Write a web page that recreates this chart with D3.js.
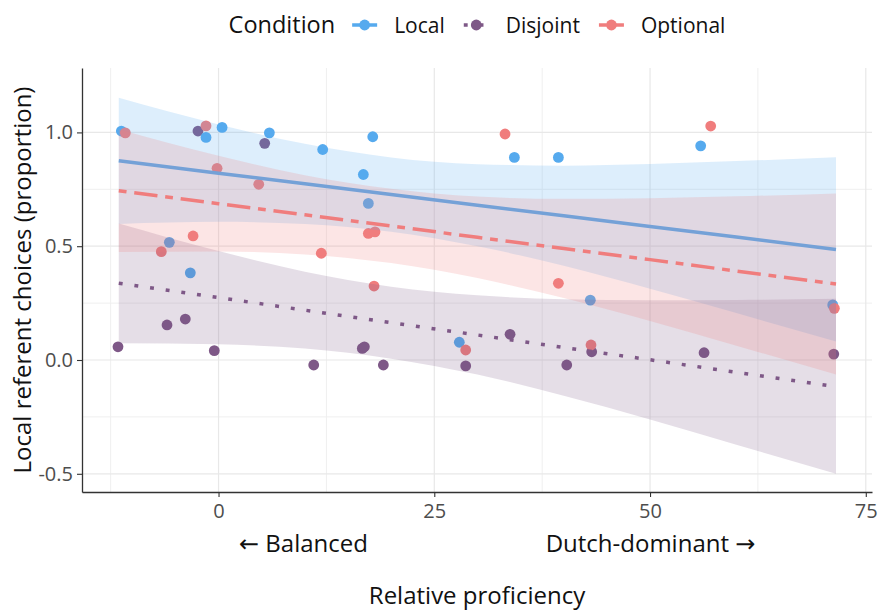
<!DOCTYPE html>
<html>
<head>
<meta charset="utf-8">
<script src="https://cdn.jsdelivr.net/npm/d3@7"></script>
<style>
  body { margin: 0; background: #fff; }
  text { font-family: "Open Sans", "Noto Sans", sans-serif; }
</style>
</head>
<body>
<svg id="chart" width="879" height="610"></svg>
<script>
// ---- data ---------------------------------------------------------------
const conditions = ["Local", "Disjoint", "Optional"];

// participant proportions by relative proficiency
const localX    = [-11.26, -1.45, 0.41, 5.89, 12.07, -5.70, -3.27, 17.87, 16.78, 17.36, 34.28, 39.38, 43.08, 27.90, 55.87, 71.17];
const localY    = [1.006, 0.978, 1.022, 0.998, 0.925, 0.517, 0.383, 0.981, 0.815, 0.688, 0.890, 0.890, 0.263, 0.078, 0.941, 0.242];
const disjointX = [-2.38, 5.35, -11.65, -5.97, -3.85, -0.49, 11.03, 16.66, 16.90, 19.10, 28.64, 33.78, 40.35, 43.24, 56.26, 71.29];
const disjointY = [1.006, 0.952, 0.058, 0.154, 0.180, 0.041, -0.022, 0.051, 0.058, -0.022, -0.026, 0.113, -0.022, 0.036, 0.032, 0.026];
const optionalX = [-10.80, -1.45, -0.17, 4.66, -6.63, -2.95, 11.91, 33.20, 17.36, 18.13, 18.02, 39.38, 28.64, 43.16, 57.03, 71.36];
const optionalY = [0.998, 1.029, 0.842, 0.772, 0.476, 0.545, 0.469, 0.993, 0.556, 0.563, 0.325, 0.337, 0.044, 0.066, 1.028, 0.227];

// linear fits with confidence bands
const fitX          = [-11.56, 0, 10, 20, 30, 40, 50, 60, 71.55];
const localFit      = [0.875, 0.821, 0.774, 0.727, 0.680, 0.634, 0.587, 0.540, 0.486];
const localLower    = [0.598, 0.607, 0.598, 0.564, 0.500, 0.414, 0.313, 0.206, 0.081];
const localUpper    = [1.152, 1.035, 0.950, 0.890, 0.860, 0.854, 0.861, 0.874, 0.891];
const disjointFit   = [0.337, 0.274, 0.219, 0.164, 0.110, 0.055, 0.001, -0.054, -0.117];
const disjointLower = [0.074, 0.069, 0.050, 0.006, -0.064, -0.157, -0.261, -0.372, -0.500];
const disjointUpper = [0.600, 0.479, 0.388, 0.322, 0.284, 0.267, 0.263, 0.264, 0.269];
const optionalFit   = [0.744, 0.687, 0.638, 0.589, 0.539, 0.490, 0.441, 0.391, 0.334];
const optionalLower = [0.474, 0.477, 0.464, 0.426, 0.360, 0.272, 0.171, 0.063, -0.064];
const optionalUpper = [1.014, 0.897, 0.812, 0.752, 0.718, 0.708, 0.711, 0.719, 0.732];

const xMajor = [0, 25, 50, 75];
const xMinor = [-12.5, 12.5, 37.5, 62.5];
const yMajor = [-0.5, 0, 0.5, 1.0];
const yMinor = [-0.25, 0.25, 0.75];

// ---- styling ------------------------------------------------------------
const colors = { Local: "#56AAEE", Disjoint: "#7E5887", Optional: "#F07D7D" };
const dashes = { Local: null, Disjoint: "3.9,11.9", Optional: "7.8,7.8,23.4,7.8" };
const lineWidth = 3.5;
const pointR = 5.4;

const groups = {
  Local:    { x: localX, y: localY, fit: localFit, lo: localLower, hi: localUpper },
  Disjoint: { x: disjointX, y: disjointY, fit: disjointFit, lo: disjointLower, hi: disjointUpper },
  Optional: { x: optionalX, y: optionalY, fit: optionalFit, lo: optionalLower, hi: optionalUpper }
};

const svg = d3.select("#chart");
const panel = { left: 82, right: 872, top: 68, bottom: 492 };

const x = d3.scaleLinear().domain([-15.82, 75.72]).range([panel.left, panel.right]);
const y = d3.scaleLinear().domain([-0.58, 1.283]).range([panel.bottom, panel.top]);

// ---- grid ---------------------------------------------------------------
const grid = svg.append("g");
grid.selectAll(".xminor").data(xMinor).join("line")
  .attr("x1", d => x(d)).attr("x2", d => x(d))
  .attr("y1", panel.top).attr("y2", panel.bottom)
  .attr("stroke", "#efefef").attr("stroke-width", 1);
grid.selectAll(".yminor").data(yMinor).join("line")
  .attr("y1", d => y(d)).attr("y2", d => y(d))
  .attr("x1", panel.left).attr("x2", panel.right)
  .attr("stroke", "#efefef").attr("stroke-width", 1);
grid.selectAll(".xmajor").data(xMajor).join("line")
  .attr("x1", d => x(d)).attr("x2", d => x(d))
  .attr("y1", panel.top).attr("y2", panel.bottom)
  .attr("stroke", "#e8e8e8").attr("stroke-width", 1.2);
grid.selectAll(".ymajor").data(yMajor).join("line")
  .attr("y1", d => y(d)).attr("y2", d => y(d))
  .attr("x1", panel.left).attr("x2", panel.right)
  .attr("stroke", "#e8e8e8").attr("stroke-width", 1.2);

// ---- points (drawn beneath the bands) ------------------------------------
const pointLayer = svg.append("g");
["Disjoint", "Local", "Optional"].forEach(c => {
  const g = groups[c];
  pointLayer.append("g").selectAll("circle")
    .data(g.x.map((v, i) => [v, g.y[i]]))
    .join("circle")
    .attr("cx", d => x(d[0])).attr("cy", d => y(d[1]))
    .attr("r", pointR).attr("fill", colors[c]);
});

// ---- bands and fitted lines --------------------------------------------
const area = d3.area()
  .x((d, i) => x(fitX[i]))
  .y0(d => y(d[0])).y1(d => y(d[1]))
  .curve(d3.curveMonotoneX);
const line = d3.line()
  .x((d, i) => x(fitX[i])).y(d => y(d));

conditions.forEach(c => {
  const g = groups[c];
  svg.append("path")
    .datum(g.lo.map((v, i) => [v, g.hi[i]]))
    .attr("d", area)
    .attr("fill", colors[c]).attr("fill-opacity", 0.2);
  svg.append("path")
    .datum(g.fit)
    .attr("d", line)
    .attr("fill", "none")
    .attr("stroke", colors[c])
    .attr("stroke-width", lineWidth)
    .attr("stroke-dasharray", dashes[c]);
});

// ---- axes ---------------------------------------------------------------
const axisColor = "#333";
const tickText = "#4d4d4d";

const yAxis = svg.append("g")
  .attr("transform", `translate(${panel.left},0)`)
  .call(d3.axisLeft(y).tickValues(yMajor).tickFormat(d3.format(".1f"))
    .tickSize(5).tickSizeOuter(0).tickPadding(4));
const xAxis = svg.append("g")
  .attr("transform", `translate(0,${panel.bottom})`)
  .call(d3.axisBottom(x).tickValues(xMajor).tickFormat(d3.format("d"))
    .tickSize(5).tickSizeOuter(0).tickPadding(7));

[xAxis, yAxis].forEach(a => {
  a.select(".domain").attr("stroke", axisColor).attr("stroke-width", 1.3);
  a.selectAll(".tick line").attr("stroke", axisColor).attr("stroke-width", 1.1);
  a.selectAll(".tick text")
    .attr("fill", tickText)
    .style("font-size", "20px")
    .style("font-family", '"Open Sans", sans-serif');
});
yAxis.selectAll(".tick text").text(d => d3.format(".1f")(d).replace("−", "-"));

// ---- axis titles --------------------------------------------------------
const titleSize = "24px";
const arrowFont = '"DejaVu Sans", sans-serif';
svg.append("text")
  .attr("transform", `translate(31,${(panel.top + panel.bottom) / 2}) rotate(-90)`)
  .attr("text-anchor", "middle")
  .style("font-size", titleSize).attr("fill", "#111")
  .text("Local referent choices (proportion)");

const leftLabel = svg.append("text")
  .attr("x", 303.5).attr("y", 552)
  .attr("text-anchor", "middle")
  .style("font-size", titleSize).attr("fill", "#111");
leftLabel.append("tspan").style("font-family", arrowFont).text("←");
leftLabel.append("tspan").text(" Balanced");

const rightLabel = svg.append("text")
  .attr("x", 650.5).attr("y", 552)
  .attr("text-anchor", "middle")
  .style("font-size", titleSize).attr("fill", "#111");
rightLabel.append("tspan").text("Dutch-dominant ");
rightLabel.append("tspan").style("font-family", arrowFont).text("→");

svg.append("text")
  .attr("x", (panel.left + panel.right) / 2).attr("y", 604)
  .attr("text-anchor", "middle")
  .style("font-size", titleSize).attr("fill", "#111")
  .text("Relative proficiency");

// ---- legend -------------------------------------------------------------
const legend = svg.append("g");
const legendY = 25;
const keyW = 25, gap = 17, itemGap = 19;

const titleEl = legend.append("text")
  .attr("y", legendY).attr("dy", "0.36em")
  .style("font-size", "23.5px").attr("fill", "#111")
  .text("Condition");
const items = conditions.map(c => {
  const t = legend.append("text")
    .attr("y", legendY).attr("dy", "0.36em")
    .style("font-size", "21px").attr("fill", "#111")
    .text(c);
  return { c, t, w: t.node().getComputedTextLength() };
});

let total = titleEl.node().getComputedTextLength();
items.forEach((it, i) => { total += (i === 0 ? gap : itemGap) + keyW + gap + it.w; });
let cx = (panel.left + panel.right) / 2 - total / 2;
titleEl.attr("x", cx);
cx += titleEl.node().getComputedTextLength();

items.forEach((it, i) => {
  cx += (i === 0 ? gap : itemGap);
  const k0 = cx, k1 = cx + keyW;
  legend.append("line")
    .attr("x1", k0).attr("x2", k1)
    .attr("y1", legendY).attr("y2", legendY)
    .attr("stroke", colors[it.c]).attr("stroke-width", lineWidth)
    .attr("stroke-dasharray", dashes[it.c]);
  legend.append("circle")
    .attr("cx", (k0 + k1) / 2).attr("cy", legendY)
    .attr("r", pointR).attr("fill", colors[it.c]);
  cx = k1 + gap;
  it.t.attr("x", cx);
  cx += it.w;
});
</script>
</body>
</html>
